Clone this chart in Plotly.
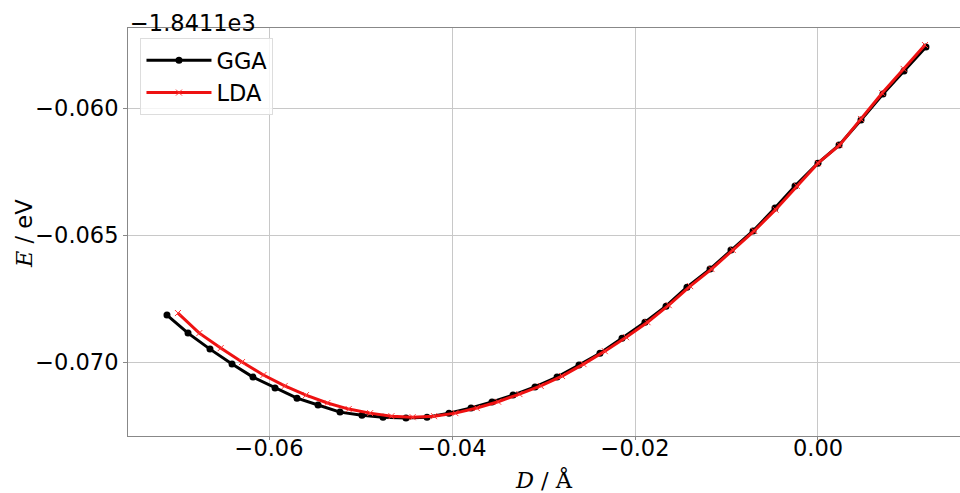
import plotly.graph_objects as go

# Energies are relative to the offset -1.8411e3 eV
gga_d = [-0.07115, -0.06885, -0.06645, -0.06404, -0.06175, -0.05934, -0.05694, -0.05464,
         -0.05224, -0.04984, -0.04754, -0.04503, -0.04273, -0.04033, -0.03792, -0.03563,
         -0.03333, -0.03093, -0.02852, -0.02612, -0.02383, -0.02142, -0.01891, -0.01661,
         -0.01432, -0.01180, -0.00951, -0.00710, -0.00470, -0.00251, 0.00000, 0.00230,
         0.00470, 0.00710, 0.00940, 0.01180]
gga_e = [-0.06815, -0.06886, -0.06949, -0.07008, -0.07059, -0.07102, -0.07142, -0.07169,
         -0.07197, -0.07209, -0.07217, -0.07220, -0.07217, -0.07201, -0.07181, -0.07157,
         -0.07130, -0.07098, -0.07059, -0.07012, -0.06965, -0.06906, -0.06843, -0.06780,
         -0.06705, -0.06634, -0.06559, -0.06484, -0.06394, -0.06307, -0.06217, -0.06146,
         -0.06047, -0.05945, -0.05854, -0.05760]

lda_d = [-0.06995, -0.06762, -0.06528, -0.06295, -0.06061, -0.05828, -0.05596, -0.05362,
         -0.05129, -0.04895, -0.04662, -0.04430, -0.04196, -0.03963, -0.03729, -0.03496,
         -0.03263, -0.03030, -0.02797, -0.02563, -0.02330, -0.02097, -0.01863, -0.01631,
         -0.01397, -0.01164, -0.00931, -0.00697, -0.00464, -0.00231, 0.00000, 0.00235,
         0.00469, 0.00702, 0.00936, 0.01169]
lda_e = [-0.06807, -0.06886, -0.06945, -0.07000, -0.07051, -0.07094, -0.07130, -0.07161,
         -0.07185, -0.07201, -0.07213, -0.07217, -0.07213, -0.07201, -0.07181, -0.07156,
         -0.07126, -0.07094, -0.07055, -0.07008, -0.06957, -0.06902, -0.06843, -0.06776,
         -0.06701, -0.06634, -0.06559, -0.06484, -0.06400, -0.06307, -0.06217, -0.06146,
         -0.06043, -0.05941, -0.05846, -0.05752]

x_ticks = [-0.06, -0.04, -0.02, 0.00]
x_tick_labels = ["−0.06", "−0.04", "−0.02", "0.00"]
y_ticks = [-0.070, -0.065, -0.060]
y_tick_labels = ["−0.070", "−0.065", "−0.060"]
offset_text = "−1.8411e3"

FONT = "DejaVu Sans"
SERIF = "DejaVu Serif"
FS = 22.5

fig = go.Figure()
fig.add_trace(go.Scatter(
    x=gga_d, y=gga_e, name="GGA", mode="lines+markers",
    line=dict(color="black", width=3),
    marker=dict(symbol="circle", size=7, color="black"),
))
fig.add_trace(go.Scatter(
    x=lda_d, y=lda_e, name="LDA", mode="lines+markers",
    line=dict(color="#ee1111", width=3),
    marker=dict(symbol="x-thin", size=6, color="#ff3333",
                line=dict(width=1, color="#ff3333")),
))

fig.update_layout(
    width=960, height=493,
    margin=dict(l=128, r=0, t=28, b=57),
    paper_bgcolor="white", plot_bgcolor="white",
    font=dict(family=FONT, size=FS, color="black"),
    showlegend=True,
    legend=dict(
        x=0.015, y=0.975, xanchor="left", yanchor="top",
        bgcolor="rgba(255,255,255,0.8)", bordercolor="#dddddd", borderwidth=1,
        font=dict(family=FONT, size=FS),
        itemwidth=65, tracegroupgap=4,
    ),
    xaxis=dict(
        range=[-0.07541, 0.01552],
        tickvals=x_ticks, ticktext=x_tick_labels,
        showgrid=True, gridcolor="#c8c8c8", gridwidth=1,
        showline=True, linecolor="#888888", linewidth=1, mirror=True,
        ticks="outside", ticklen=3, tickcolor="#888888",
        ticklabelstandoff=-11,
        zeroline=False,
        title=dict(text=f"<span style='font-family:{SERIF}'><i>D</i> / Å</span>",
                   font=dict(family=SERIF, size=FS), standoff=15),
    ),
    yaxis=dict(
        range=[-0.07291, -0.05685],
        tickvals=y_ticks, ticktext=y_tick_labels,
        showgrid=True, gridcolor="#c8c8c8", gridwidth=1,
        showline=True, linecolor="#888888", linewidth=1, mirror=True,
        ticks="outside", ticklen=4, tickcolor="#888888",
        zeroline=False,
    ),
    annotations=[
        dict(text=offset_text, xref="paper", yref="paper", x=0, y=1,
             xanchor="left", yanchor="bottom", showarrow=False,
             font=dict(family=FONT, size=FS), yshift=-10),
        dict(text=f"<span style='font-family:{SERIF}'><i>E</i></span> / eV",
             xref="paper", yref="paper", x=(24 - 128) / 832, y=0.495,
             xanchor="center", yanchor="middle", textangle=-90, showarrow=False,
             font=dict(family=FONT, size=FS)),
    ],
)

fig.write_html("out.html")
